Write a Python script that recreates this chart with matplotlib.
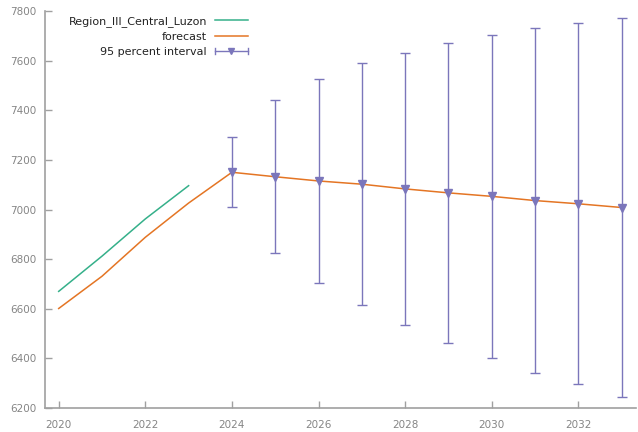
import matplotlib
matplotlib.use("Agg")
import matplotlib.pyplot as plt
import numpy as np
from matplotlib.legend_handler import HandlerBase
from matplotlib.lines import Line2D

# Observed series
years_obs = [2020, 2021, 2022, 2023]
region_values = [6670, 6812, 6962, 7096]

# Model forecast (fitted + projected)
years_fc = [2020, 2021, 2022, 2023, 2024, 2025, 2026, 2027, 2028, 2029, 2030, 2031, 2032, 2033]
forecast_values = [6601, 6731, 6888, 7026, 7150, 7132, 7115, 7102, 7083, 7067, 7053, 7036, 7023, 7008]

# 95 percent interval bounds for the projected years
years_ci = [2024, 2025, 2026, 2027, 2028, 2029, 2030, 2031, 2032, 2033]
ci_lower = [7010, 6823, 6704, 6615, 6534, 6463, 6402, 6343, 6295, 6246]
ci_upper = [7291, 7441, 7526, 7589, 7632, 7672, 7705, 7730, 7753, 7770]

xticks = [2020, 2022, 2024, 2026, 2028, 2030, 2032]
yticks = [6200, 6400, 6600, 6800, 7000, 7200, 7400, 7600, 7800]

GREEN = "#35b08a"
ORANGE = "#e47524"
PURPLE = "#7b76bb"
AXIS_GREY = "#a0a0a0"
LABEL_GREY = "#858585"

plt.rcParams["font.family"] = ["DejaVu Sans"]

fig = plt.figure(figsize=(6.38, 4.32), dpi=100)
W, H = 638, 432
ax = fig.add_axes([45 / W, 24 / H, (636 - 45) / W, (408 - 11) / H])

ax.plot(years_obs, region_values, color=GREEN, lw=1.1, label="Region_III_Central_Luzon")
ax.plot(years_fc, forecast_values, color=ORANGE, lw=1.1, label="forecast")

ci_mid = [forecast_values[years_fc.index(y)] for y in years_ci]
err_lo = np.array(ci_mid) - np.array(ci_lower)
err_hi = np.array(ci_upper) - np.array(ci_mid)
eb = ax.errorbar(years_ci, ci_mid, yerr=[err_lo, err_hi], fmt="v", color=PURPLE,
                 ms=5.5, elinewidth=1.0, capsize=3.5, capthick=1.0,
                 label="95 percent interval")


class HorizontalIntervalHandler(HandlerBase):
    """Legend key: horizontal bar with end caps and a centred marker."""

    def create_artists(self, legend, orig_handle, xdescent, ydescent,
                       width, height, fontsize, trans):
        y = height / 2 - ydescent
        x0, x1 = -xdescent, -xdescent + width
        cap = 0.35 * height
        bar = Line2D([x0, x1], [y, y], color=PURPLE, lw=1.0, transform=trans)
        c0 = Line2D([x0, x0], [y - cap, y + cap], color=PURPLE, lw=1.0, transform=trans)
        c1 = Line2D([x1, x1], [y - cap, y + cap], color=PURPLE, lw=1.0, transform=trans)
        mk = Line2D([(x0 + x1) / 2], [y], marker="v", ms=5.0, color=PURPLE,
                    ls="none", transform=trans)
        return [bar, c0, c1, mk]


handles, labels = ax.get_legend_handles_labels()
leg = ax.legend(handles, labels, loc="upper right",
                bbox_to_anchor=(248 / W, 1 - 16 / H), bbox_transform=fig.transFigure,
                frameon=False, markerfirst=False, fontsize=8,
                handlelength=3.0, handletextpad=0.7, labelspacing=0.45,
                borderpad=0, borderaxespad=0,
                handler_map={type(eb): HorizontalIntervalHandler()})
for t in leg.get_texts():
    t.set_color("#222222")

ax.set_xlim(2019.684, 2033.33)
ax.set_ylim(6200, 7800)
ax.set_xticks(xticks)
ax.set_yticks(yticks)

for side in ("top", "right"):
    ax.spines[side].set_visible(False)
for side in ("left", "bottom"):
    ax.spines[side].set_color(AXIS_GREY)
    ax.spines[side].set_linewidth(1.2)

ax.tick_params(direction="in", length=5, width=1, color=AXIS_GREY,
               labelcolor=LABEL_GREY, labelsize=7.5)
ax.tick_params(axis="x", pad=9)
ax.tick_params(axis="y", pad=6)

fig.savefig("out.png", dpi=100)
